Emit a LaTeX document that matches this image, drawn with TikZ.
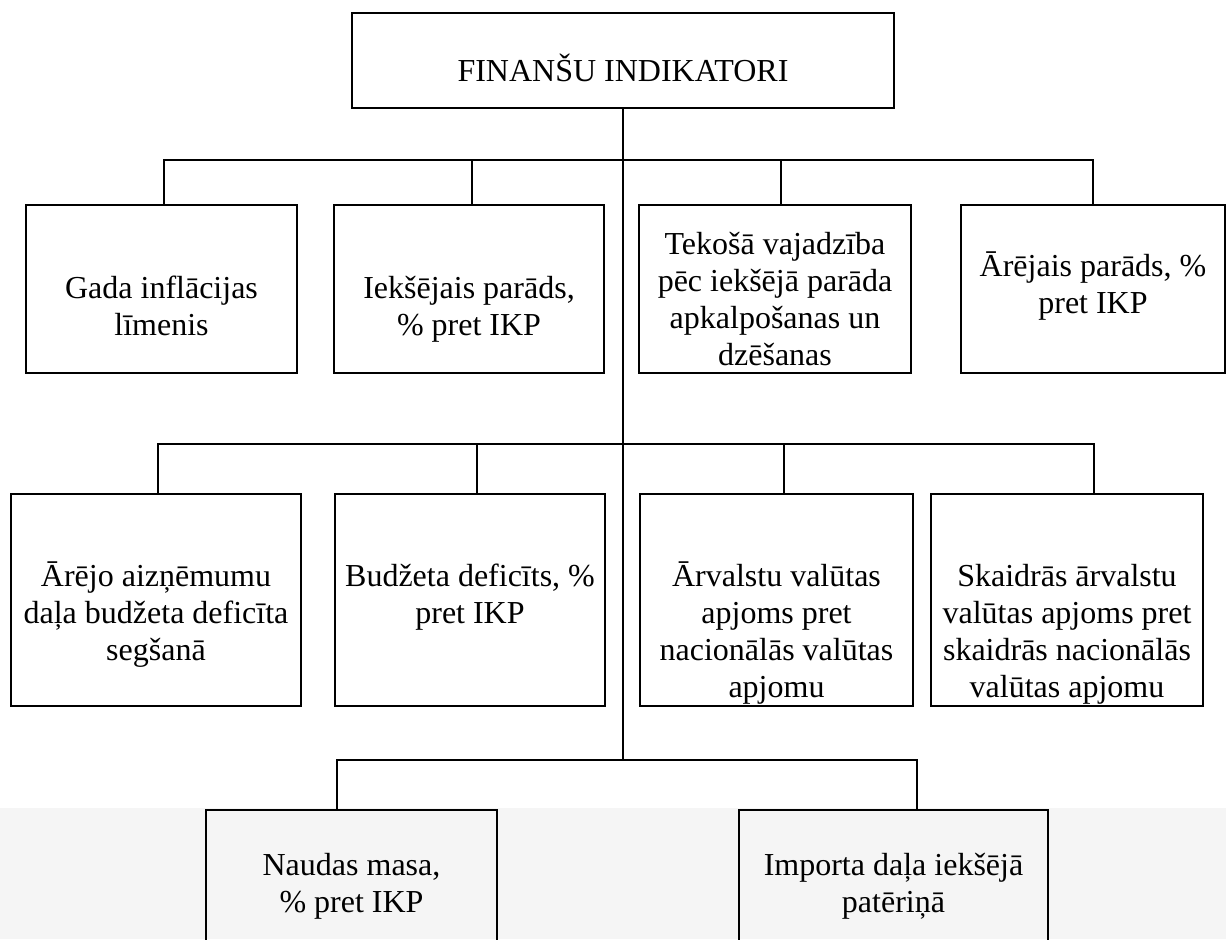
\documentclass[tikz,border=0pt]{standalone}
\usepackage{fontspec}
\setmainfont{Liberation Serif}
\usetikzlibrary{calc,fit}
\begin{document}
\begin{tikzpicture}[x=0.5pt,y=-0.5pt,
  box/.style={draw=black, line width=0.9pt, inner sep=0pt, fill=none},
  txt/.style={align=center, anchor=base, inner sep=0pt, font=\fontsize{16}{18.5}\selectfont},
  ln/.style={draw=black, line width=0.8pt}
]
\useasboundingbox (0,0) rectangle (1226,939);
\fill[black!4] (0,808) rectangle (1226,939);

% boxes
\node[box, fit={(352,13) (894,108)}] (top) {};
\node[box, fit={(26,205) (297,373)}] (b1) {};
\node[box, fit={(334,205) (604,373)}] (b2) {};
\node[box, fit={(639,205) (911,373)}] (b3) {};
\node[box, fit={(961,205) (1225,373)}] (b4) {};
\node[box, fit={(11,494) (301,706)}] (b5) {};
\node[box, fit={(335,494) (605,706)}] (b6) {};
\node[box, fit={(640,494) (913,706)}] (b7) {};
\node[box, fit={(931,494) (1203,706)}] (b8) {};
\node[box, fit={(206,810) (497,990)}] (b9) {};
\node[box, fit={(739,810) (1048,990)}] (b10) {};

% texts (anchor = baseline of the last line)
\node[txt] (t0) at (623,81) {FINANŠU INDIKATORI};
\node[txt] (t1) at (161.5,335) {Gada inflācijas\\līmenis};
\node[txt] (t2) at (469,335) {Iekšējais parāds,\\\% pret IKP};
\node[txt] (t3) at (775,365) {Tekošā vajadzība\\pēc iekšējā parāda\\apkalpošanas un\\dzēšanas};
\node[txt] (t4) at (1093,313) {Ārējais parāds, \%\\pret IKP};
\node[txt] (t5) at (156,660) {Ārējo aizņēmumu\\daļa budžeta deficīta\\segšanā};
\node[txt] (t6) at (470,623) {Budžeta deficīts, \%\\pret IKP};
\node[txt] (t7) at (776.5,697) {Ārvalstu valūtas\\apjoms pret\\nacionālās valūtas\\apjomu};
\node[txt] (t8) at (1067,697) {Skaidrās ārvalstu\\valūtas apjoms pret\\skaidrās nacionālās\\valūtas apjomu};
\node[txt] (t9) at (351.5,912) {Naudas masa,\\\% pret IKP};
\node[txt] (t10) at (893.5,912) {Importa daļa iekšējā\\patēriņā};

% junctions
\coordinate (j1) at (623,160);
\coordinate (j2) at (623,444);
\coordinate (j3) at (623,760);

% drop points
\path ($(b1.north)+(2.5,0)$) coordinate (d1);
\path ($(b2.north)+(3,0)$) coordinate (d2);
\path ($(b3.north)+(6,0)$) coordinate (d3);
\path (b4.north) coordinate (d4);
\path ($(b5.north)+(2,0)$) coordinate (d5);
\path ($(b6.north)+(7,0)$) coordinate (d6);
\path ($(b7.north)+(7.5,0)$) coordinate (d7);
\path ($(b8.north)+(27,0)$) coordinate (d8);
\path ($(b9.north)+(-14.5,0)$) coordinate (d9);
\path ($(b10.north)+(23.5,0)$) coordinate (d10);

% trunk
\draw[ln] (top.south) -- (top.south |- j3);

% row 1
\draw[ln] (d1) |- (j1) -| (d4);
\draw[ln] (d2) -- (d2 |- j1);
\draw[ln] (d3) -- (d3 |- j1);
% row 2
\draw[ln] (d5) |- (j2) -| (d8);
\draw[ln] (d6) -- (d6 |- j2);
\draw[ln] (d7) -- (d7 |- j2);
% row 3
\draw[ln] (d9) |- (j3) -| (d10);
\end{tikzpicture}
\end{document}
